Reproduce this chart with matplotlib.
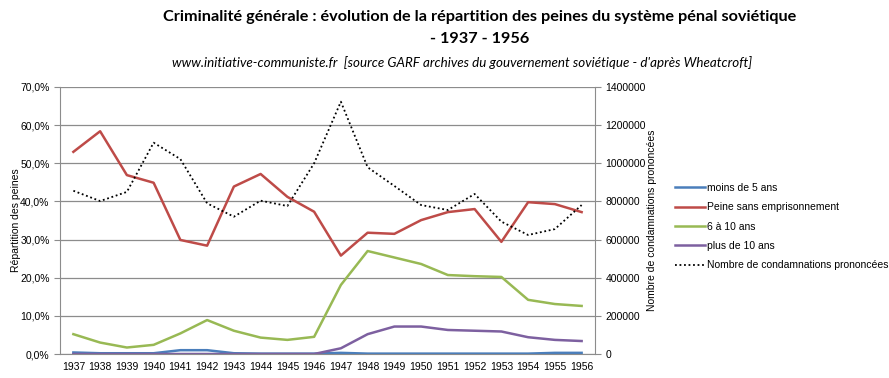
import matplotlib
matplotlib.use("Agg")
import matplotlib.pyplot as plt
from matplotlib.ticker import FuncFormatter

years = list(range(1937, 1957))

# parts des peines (%)
moins_5 = [0.4, 0.2, 0.2, 0.2, 1.0, 1.0, 0.2, 0.1, 0.1, 0.1,
           0.3, 0.1, 0.1, 0.1, 0.1, 0.1, 0.1, 0.1, 0.3, 0.3]
sans_empr = [53.0, 58.4, 46.9, 44.9, 29.9, 28.4, 43.9, 47.2, 41.2, 37.3,
             25.8, 31.8, 31.5, 35.1, 37.2, 38.0, 29.4, 39.8, 39.3, 37.2]
de_6_10 = [5.2, 3.0, 1.7, 2.4, 5.4, 8.9, 6.1, 4.3, 3.7, 4.5,
           18.1, 27.0, 25.3, 23.6, 20.7, 20.4, 20.2, 14.2, 13.1, 12.6]
plus_10 = [0.0, 0.0, 0.0, 0.0, 0.0, 0.0, 0.0, 0.0, 0.0, 0.0,
           1.5, 5.2, 7.2, 7.2, 6.3, 6.1, 5.9, 4.4, 3.7, 3.4]

# nombre de condamnations (axe de droite)
condamnations = [856000, 802000, 850000, 1108000, 1022000, 790000, 720000, 804000,
                 776000, 1000000, 1323000, 979000, 881000, 781000, 755000, 839000,
                 694000, 624000, 655000, 781000]

plt.rcParams["font.family"] = ["Liberation Sans", "DejaVu Sans"]

fig = plt.figure(figsize=(8.89, 3.78), dpi=100)
ax = fig.add_axes([60 / 889, 1 - 354 / 378, 535 / 889, 267 / 378])
ax2 = ax.twinx()

x = list(range(len(years)))
lw = 1.8
l1, = ax.plot(x, moins_5, color="#4A7EBB", lw=lw, label="moins de 5 ans")
l2, = ax.plot(x, sans_empr, color="#BE4B48", lw=lw, label="Peine sans emprisonnement")
l3, = ax.plot(x, de_6_10, color="#98B954", lw=lw, label="6 à 10 ans")
l4, = ax.plot(x, plus_10, color="#7D60A0", lw=lw, label="plus de 10 ans")
l5, = ax2.plot(x, condamnations, color="black", lw=1.3, ls=(0, (1, 1.5)),
               label="Nombre de condamnations prononcées")

ax.set_xlim(-0.5, len(years) - 0.5)
ax.set_ylim(0, 70)
ax.set_yticks(range(0, 71, 10))
ax.yaxis.set_major_formatter(FuncFormatter(lambda v, p: f"{v:.1f}%".replace(".", ",")))
ax2.set_ylim(0, 1400000)
ax2.set_yticks(range(0, 1400001, 200000))
ax2.yaxis.set_major_formatter(FuncFormatter(lambda v, p: f"{int(v)}"))

ax.set_xticks(x)
ax.set_xticklabels([str(y) for y in years])
ax.grid(axis="y", color="#8c8c8c", lw=0.9)
ax.set_axisbelow(True)

for a in (ax, ax2):
    for s in a.spines.values():
        s.set_visible(False)
ax.spines["left"].set_visible(True)
ax.spines["left"].set_color("#8c8c8c")
ax.spines["bottom"].set_visible(True)
ax.spines["bottom"].set_color("#8c8c8c")
ax2.spines["right"].set_visible(True)
ax2.spines["right"].set_color("#8c8c8c")

ax.tick_params(axis="x", length=0, labelsize=7.5, pad=6)
ax.tick_params(axis="y", length=4, color="#8c8c8c", labelsize=7.5)
ax2.tick_params(axis="y", length=4, color="#8c8c8c", labelsize=7.5)

ax.set_ylabel("Répartition des peines", fontsize=7.5)
ax.yaxis.set_label_coords(-0.072, 0.5)
ax2.set_ylabel("Nombre de condamnations prononcées", fontsize=7.5)
ax2.yaxis.set_label_coords(1.097, 0.5)

fig.legend(handles=[l1, l2, l3, l4, l5], loc="upper left",
           bbox_to_anchor=(675 / 889, 1 - 183 / 378), frameon=False,
           fontsize=7.5, handlelength=2.9, handletextpad=0.2, labelspacing=0.9,
           borderaxespad=0, borderpad=0)

fig.text(480 / 889, 1 - 17 / 378, "Criminalité générale : évolution de la répartition des peines du système pénal soviétique",
         ha="center", va="center", fontsize=11.7, fontweight="bold", family="Lato")
fig.text(480 / 889, 1 - 39 / 378, "- 1937 - 1956", ha="center", va="center",
         fontsize=11.7, fontweight="bold", family="Lato")
fig.text(462 / 889, 1 - 63 / 378,
         "www.initiative-communiste.fr  [source GARF archives du gouvernement soviétique - d'après Wheatcroft]",
         ha="center", va="center", fontsize=9.6, fontstyle="italic", family="Lato")

fig.savefig("out.png", dpi=100)
